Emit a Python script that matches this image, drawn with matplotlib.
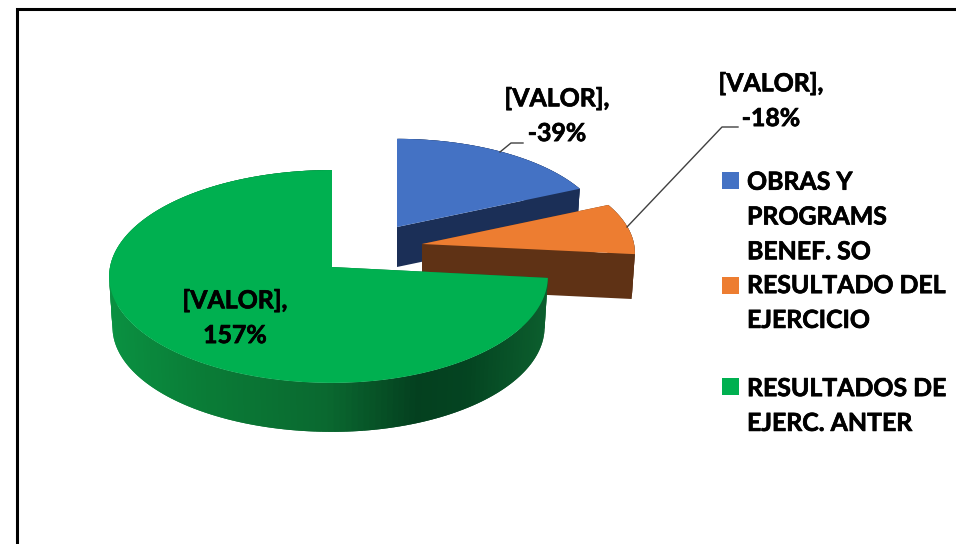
import numpy as np
import matplotlib
matplotlib.use("Agg")
import matplotlib.pyplot as plt
import matplotlib.patheffects as pe
from matplotlib.patches import Rectangle

categories = ["OBRAS Y\nPROGRAMS\nBENEF. SO", "RESULTADO DEL\nEJERCICIO", "RESULTADOS DE\nEJERC. ANTER"]
values = [-39, -18, 157]
label_name = "[VALOR],"

top_colors = ["#4472C4", "#ED7D31", "#00B050"]
side_colors = ["#1B2F57", "#5F3215", "#0A6B30"]

# slice geometry in pixels: apex x, apex y, x radius right, x radius left, y radius, depth
apex = [(397, 227), (422, 244), (332, 267)]
radius_right = [208, 212, 215]
radius_left = [208, 212, 222]
radius_y = [96, 98, 105.6]
depth = [40, 45, 50.7]
persp = 0.089
bottom_scale = 0.985

plt.rcParams["font.family"] = ["Lato", "DejaVu Sans"]
plt.rcParams["font.weight"] = "bold"
FONT = 17.9
# Lato bold is a little lighter than the reference lettering
THICK = [pe.withStroke(linewidth=0.5, foreground="black")]


def rim(i, theta):
    # theta is clockwise from 12 o'clock, degrees
    u = np.sin(np.radians(theta))
    v = -np.cos(np.radians(theta))
    d = 1 - persp * v
    rx = np.where(u >= 0, radius_right[i], radius_left[i])
    return apex[i][0] + rx * u / d, apex[i][1] + radius_y[i] * v / d


def lower(i, x, y):
    return (apex[i][0] + bottom_scale * (x - apex[i][0]),
            apex[i][1] + depth[i] + bottom_scale * (y - apex[i][1]))


def green_shade(x):
    # side wall of the big slice gets darker to the right, then a bit lighter again
    stops = [105, 200, 330, 420, 470, 550]
    reds = [10, 10, 10, 4, 4, 12]
    greens = [146, 125, 105, 64, 68, 95]
    blues = [66, 55, 48, 31, 33, 46]
    return (np.interp(x, stops, reds) / 255, np.interp(x, stops, greens) / 255, np.interp(x, stops, blues) / 255)


fig = plt.figure(figsize=(9.56, 5.44), dpi=100)
ax = fig.add_axes([0, 0, 1, 1])
ax.set_xlim(0, 956)
ax.set_ylim(544, 0)
ax.axis("off")

# chart frame, only the left and top edges are inside the picture
ax.plot([17, 17, 956], [544, 8.5, 8.5], color="black", lw=2.2, solid_joinstyle="miter")

shares = np.abs(values) / np.sum(np.abs(values)) * 360
ends = np.cumsum(shares)
starts = ends - shares

for i in range(len(values)):
    thetas = np.linspace(starts[i], ends[i], 181)
    xs, ys = rim(i, thetas)
    ax0, ay0 = apex[i]
    bx0, by0 = lower(i, ax0, ay0)

    # cut faces
    for k in [0, -1]:
        bx, by = lower(i, xs[k], ys[k])
        ax.fill([ax0, xs[k], bx, bx0], [ay0, ys[k], by, by0], color=side_colors[i], lw=0, zorder=i * 3 + 1)

    # outer wall, strips overlap by one step so no seams show
    bxs, bys = lower(i, xs, ys)
    for k in range(len(xs) - 1):
        n = min(k + 2, len(xs) - 1)
        c = green_shade(xs[k]) if i == 2 else side_colors[i]
        ax.fill([xs[k], xs[n], bxs[n], bxs[k]], [ys[k], ys[n], bys[n], bys[k]],
                color=c, lw=0, zorder=i * 3 + 2)

    # top
    ax.fill(np.r_[ax0, xs], np.r_[ay0, ys], color=top_colors[i], lw=0, zorder=i * 3 + 3)

# leader lines
ax.plot([500, 511, 523], [152, 143, 143], color="#404040", lw=1, zorder=12)
ax.plot([627, 722, 738], [227, 127, 127], color="#404040", lw=1, zorder=12)

# data labels
label_pos = [(557, 116), (771, 101), (235, 318)]
for v, (x, y) in zip(values, label_pos):
    ax.text(x, y, f"{label_name}\n{v}%", ha="center", va="center", fontsize=FONT, color="black",
            linespacing=1.62, zorder=13, path_effects=THICK)

# legend
legend_y = [180, 285, 386]
legend_text_y = [217, 303, 406]
for name, c, y, ty in zip(categories, top_colors, legend_y, legend_text_y):
    ax.add_patch(Rectangle((722, y - 8.5), 17, 17, color=c, lw=0, zorder=13))
    ax.text(747, ty, name, ha="left", va="center", fontsize=FONT, color="black", linespacing=1.62, zorder=13,
            path_effects=THICK)

fig.savefig("out.png", dpi=100, facecolor="white")
